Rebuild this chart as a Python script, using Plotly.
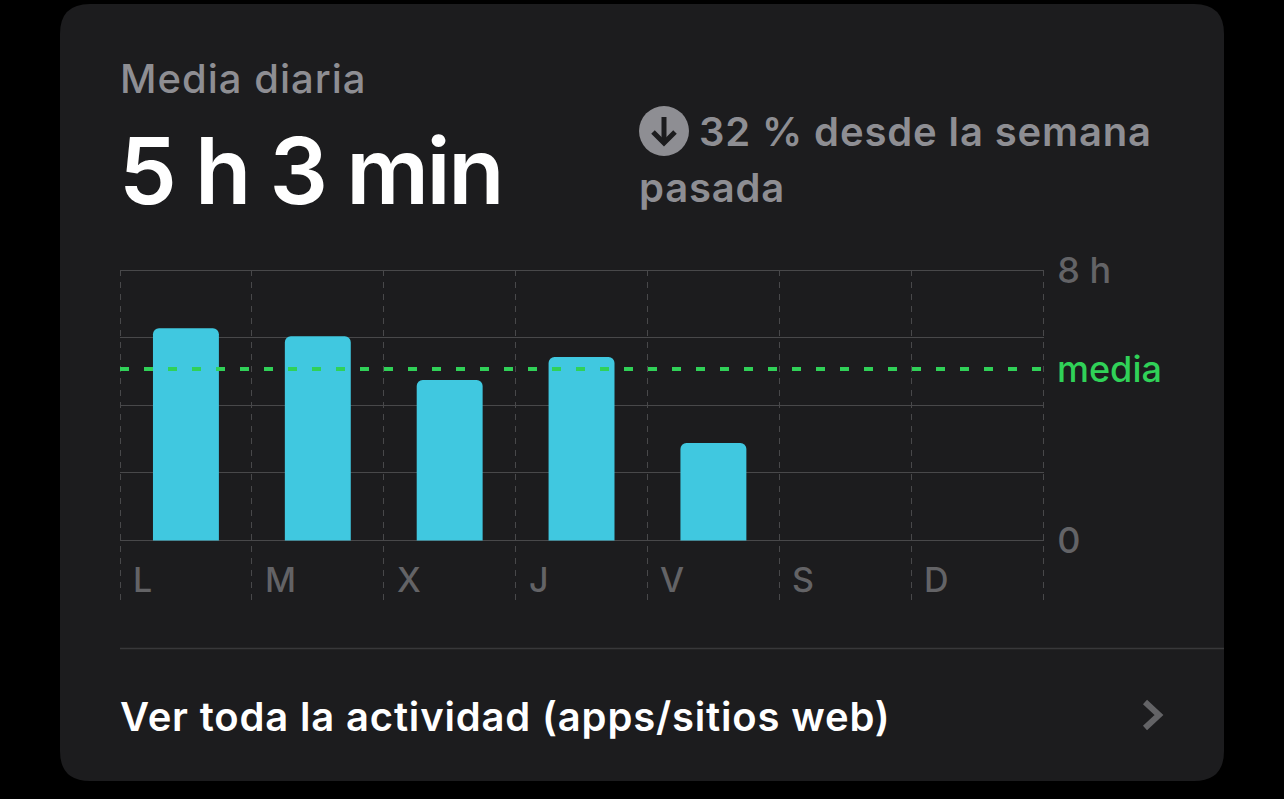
import json
import plotly.graph_objects as go

DAYS = ["L", "M", "X", "J", "V", "S", "D"]
HOURS = [6.28, 6.04, 4.75, 5.43, 2.88, 0, 0]
MEDIA = 5.07
Y_TICKS = [0, 2, 4, 6, 8]
Y_LABELS = ["0", "", "", "", "8 h"]
TITLE = "Media diaria"
BIG = "5 h 3 min"
DELTA_1 = "32 % desde la semana"
DELTA_2 = "pasada"
LINK = "Ver toda la actividad (apps/sitios web)"

W, H = 1284, 799
L, R, T, B = 120, 1044, 270, 600
FONT = "Inter"
GREY = "#8e8e93"
DIM = "#636366"
GRID = "#48484a"
GREEN = "#30d158"

SPACING = {TITLE: 1.0, BIG: -2.5, DELTA_1: 0.87, DELTA_2: 0.8, LINK: 0.83, "media": 0.0}


def px(x):
    return (x - L) / (R - L)


def py(y):
    return 1 - (y - T) / (B - T)


def path(points):
    return "M" + " L".join(f"{px(x):.5f},{py(y):.5f}" for x, y in points)


def card(x0, y0, x1, y1, r):
    a, b, c, d = px(x0), py(y0), px(x1), py(y1)
    rx, ry = r / (R - L), r / (B - T)
    return (f"M{a+rx:.5f},{b:.5f} L{c-rx:.5f},{b:.5f} Q{c:.5f},{b:.5f} {c:.5f},{b-ry:.5f} "
            f"L{c:.5f},{d+ry:.5f} Q{c:.5f},{d:.5f} {c-rx:.5f},{d:.5f} L{a+rx:.5f},{d:.5f} "
            f"Q{a:.5f},{d:.5f} {a:.5f},{d+ry:.5f} L{a:.5f},{b-ry:.5f} Q{a:.5f},{b:.5f} {a+rx:.5f},{b:.5f} Z")


def label(text, x, y, size, color, weight=500):
    return dict(text=text, x=px(x), y=py(y), xref="paper", yref="paper", showarrow=False,
                xanchor="left", yanchor="middle", align="left",
                font=dict(family=FONT, size=size, color=color, weight=weight))


fig = go.Figure(go.Bar(x=DAYS, y=HOURS, width=0.5, marker=dict(color="#40c8e0", line_width=0), hoverinfo="skip"))

annotations = [
    label(TITLE, 118, 78, 40, GREY, 500),
    label(BIG, 117, 170, 92, "#ffffff", 600),
    label(DELTA_1, 697, 131, 40, GREY, 600),
    label(DELTA_2, 637, 187, 40, GREY, 600),
    label(LINK, 118, 716, 40, "#ffffff", 600),
    label("media", 1055, 369, 36, GREEN, 500),
]
for i, d in enumerate(DAYS):
    annotations.append(dict(text=d, x=i - 0.5, y=-1.16, xref="x", yref="y", xshift=11, showarrow=False,
                            xanchor="left", yanchor="middle",
                            font=dict(family=FONT, size=34, color=DIM, weight=500)))

EDGE_DASH = dict(color=GRID, width=1, dash="6px,6px")
shapes = [
    dict(type="path", xref="paper", yref="paper", path=card(60, 4, 1224, 781, 30),
         fillcolor="#1c1c1e", line_width=0, layer="below"),
    # plot-frame edges that Plotly leaves out when a grid line falls on the range limit
    dict(type="line", xref="paper", yref="paper", x0=px(120.5), x1=px(120.5), y0=0, y1=1, line=EDGE_DASH, layer="below"),
    dict(type="line", xref="paper", yref="paper", x0=px(1043.5), x1=px(1043.5), y0=0, y1=1, line=EDGE_DASH, layer="below"),
    dict(type="line", xref="paper", yref="paper", x0=0, x1=1, y0=py(270.5), y1=py(270.5),
         line=dict(color=GRID, width=1), layer="below"),
    dict(type="line", xref="paper", yref="y", x0=0, x1=1, y0=MEDIA, y1=MEDIA, layer="above",
         line=dict(color=GREEN, width=4, dash="9px,15px")),
    dict(type="line", xref="paper", yref="paper", x0=px(120), x1=px(1224), y0=py(648.5), y1=py(648.5),
         line=dict(color="#38383a", width=1.5), layer="below"),
    dict(type="circle", xref="paper", yref="paper", x0=px(639), x1=px(689), y0=py(156), y1=py(106),
         fillcolor=GREY, line_width=0),
    dict(type="path", xref="paper", yref="paper", path=path([(664, 117), (664, 142)]),
         line=dict(color="#1c1c1e", width=5)),
    dict(type="path", xref="paper", yref="paper", path=path([(653, 132), (664, 143), (675, 132)]),
         line=dict(color="#1c1c1e", width=5)),
    dict(type="path", xref="paper", yref="paper", path=path([(1145, 702), (1159, 715), (1145, 728)]),
         line=dict(color=DIM, width=6)),
]

fig.update_layout(
    width=W, height=H, margin=dict(l=L, r=W - R, t=T, b=H - B, pad=0),
    paper_bgcolor="#000000", plot_bgcolor="rgba(0,0,0,0)", showlegend=False,
    barcornerradius=6, annotations=annotations, shapes=shapes,
    xaxis=dict(type="category", categoryorder="array", categoryarray=DAYS, range=[-0.5, 6.507],
               tickson="boundaries", showgrid=True, gridcolor=GRID, griddash="6px,6px", gridwidth=1,
               showticklabels=False, ticks="", zeroline=False, showline=False),
    yaxis=dict(side="right", range=[-1.76, 8], tickmode="array", tickvals=Y_TICKS, ticktext=Y_LABELS,
               showgrid=True, gridcolor=GRID, gridwidth=1, zeroline=False, showline=False,
               ticks="outside", ticklen=5, tickcolor="rgba(0,0,0,0)",
               tickfont=dict(family=FONT, size=36, color=DIM, weight=500)),
)

script = ("document.body.style.margin='0';document.body.style.background='#000';"
          "const ls=" + json.dumps(SPACING) + ";"
          "document.querySelectorAll('.annotation-text').forEach(t=>{"
          "const v=ls[t.textContent];if(v!==undefined){t.style.letterSpacing=v+'px';}});")
fig.write_html("out.html", config=dict(displayModeBar=False), post_script=script)
